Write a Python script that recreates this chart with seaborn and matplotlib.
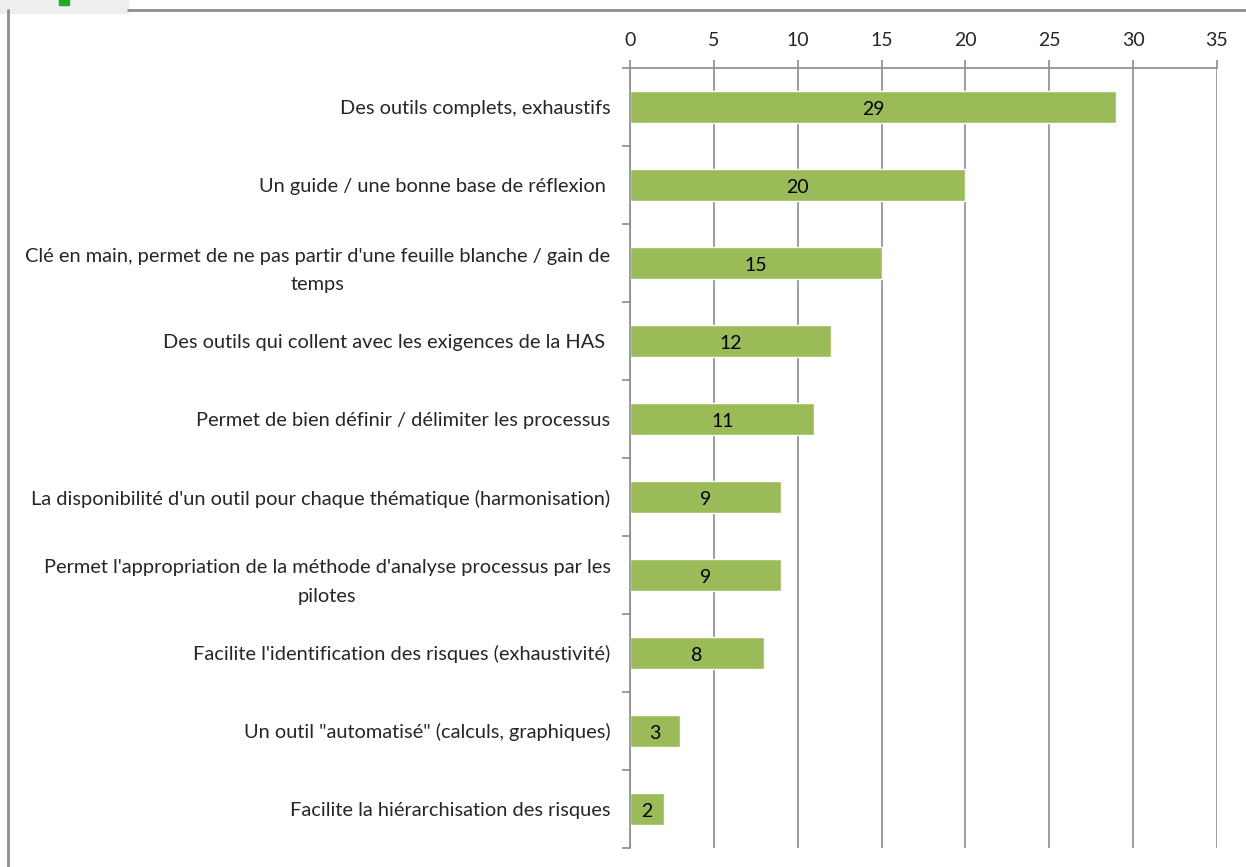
import matplotlib
matplotlib.use("Agg")
import matplotlib.pyplot as plt
import seaborn as sns
import pandas as pd
from matplotlib.patches import Rectangle
from matplotlib.lines import Line2D

# labels and counts, top to bottom
categories = [
    "Des outils complets, exhaustifs",
    "Un guide / une bonne base de réflexion ",
    "Clé en main, permet de ne pas partir d'une feuille blanche / gain de\ntemps",
    "Des outils qui collent avec les exigences de la HAS ",
    "Permet de bien définir / délimiter les processus",
    "La disponibilité d'un outil pour chaque thématique (harmonisation)",
    "Permet l'appropriation de la méthode d'analyse processus par les\npilotes",
    "Facilite l'identification des risques (exhaustivité)",
    "Un outil \"automatisé\" (calculs, graphiques)",
    "Facilite la hiérarchisation des risques",
]
counts = [29, 20, 15, 12, 11, 9, 9, 8, 3, 2]
x_ticks = [0, 5, 10, 15, 20, 25, 30, 35]

df = pd.DataFrame({"label": categories, "count": counts})

sns.set_style("white")
plt.rcParams['font.family'] = ['Lato', 'DejaVu Sans']

fig = plt.figure(figsize=(12.46, 8.67), dpi=100)
ax = fig.add_axes([0.5056, 0.022, 0.4711, 0.8995])

sns.barplot(data=df, x="count", y="label", orient="h", color="#9bbb59",
            width=0.4, saturation=1, ax=ax)

# value labels in the middle of each bar
for i, v in enumerate(counts):
    ax.text(v / 2, i + 0.03, str(v), ha="center", va="center", fontsize=14, color="black")

ax.set_xlim(0, 35)
ax.set_ylim(len(categories) - 0.5, -0.5)
ax.set_xticks(x_ticks)
ax.xaxis.tick_top()
ax.set_xlabel("")
ax.set_ylabel("")
ax.grid(axis="x", color="#8c8c8c", linewidth=1.2)
ax.set_axisbelow(True)

for s in ["right", "bottom"]:
    ax.spines[s].set_visible(False)
ax.spines["top"].set_color("#8c8c8c")
ax.spines["left"].set_color("#8c8c8c")
ax.spines["top"].set_linewidth(1.2)
ax.spines["left"].set_linewidth(1.2)

# ticks on the category boundaries
ax.set_yticks([i - 0.5 for i in range(len(categories) + 1)], minor=True)
ax.set_yticks(range(len(categories)))
ax.set_yticklabels(categories, multialignment="center", fontsize=14.4, linespacing=1.8)
ax.tick_params(axis="y", which="major", left=False, length=0, pad=14)
ax.tick_params(axis="y", which="minor", left=True, length=6, color="#8c8c8c",
               width=1.2, direction="out")
ax.tick_params(axis="x", top=True, length=6, color="#8c8c8c", width=1.2,
               labelsize=14, pad=8)

# outer frame and logo corner
fig.add_artist(Line2D([0.103, 1.0], [0.988, 0.988], color="#8c8c8c", linewidth=2))
fig.add_artist(Line2D([0.0068, 0.0068], [0.0, 0.988], color="#8c8c8c", linewidth=2))
fig.add_artist(Rectangle((0.0, 0.985), 0.103, 0.015, color="#eeeeee", zorder=0))
fig.add_artist(Rectangle((0.047, 0.994), 0.008, 0.006, color="#22aa22"))

fig.savefig("out.png", dpi=100)
